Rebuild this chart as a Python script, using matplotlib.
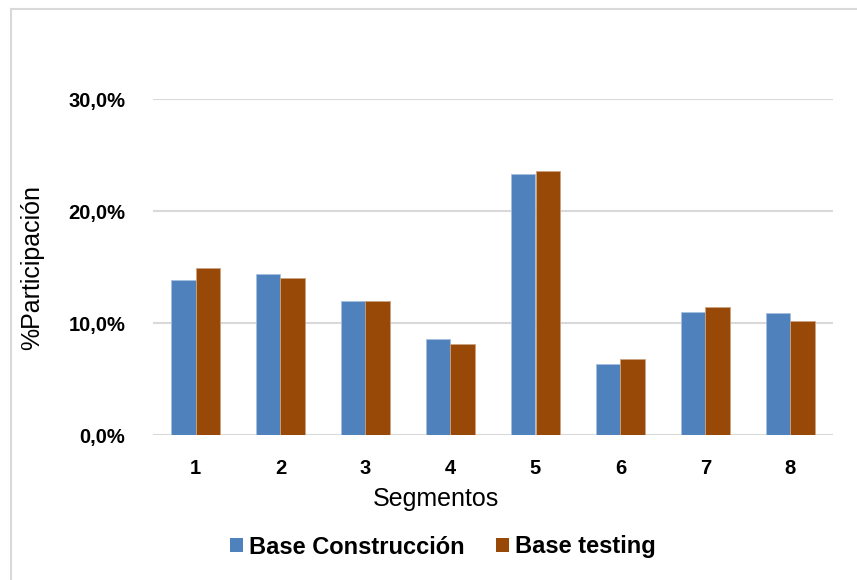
import matplotlib
matplotlib.use("Agg")
import matplotlib.pyplot as plt
from matplotlib.lines import Line2D
from matplotlib.patches import Patch
from matplotlib.ticker import FuncFormatter, FixedLocator

plt.rcParams['font.family'] = ['Liberation Sans', 'DejaVu Sans']

segmentos = ["1", "2", "3", "4", "5", "6", "7", "8"]
base_construccion = [13.8, 14.4, 12.0, 8.6, 23.3, 6.3, 11.0, 10.9]
base_testing = [14.9, 14.0, 12.0, 8.1, 23.6, 6.8, 11.4, 10.2]
y_ticks = [0, 10, 20, 30]

blue = "#4F81BD"
brown = "#984807"
grid_gray = "#D9D9D9"

W, H = 857, 580
fig = plt.figure(figsize=(W / 100, H / 100), dpi=100)
ax = fig.add_axes([153 / W, 1 - 435 / H, 680 / W, 336 / H])

x = list(range(1, len(segmentos) + 1))
bw = 0.294
ax.bar([i - bw / 2 for i in x], base_construccion, width=bw, color=blue,
       edgecolor="#A7BFDE", linewidth=0.6, zorder=3, label="Base Construcción")
ax.bar([i + bw / 2 for i in x], base_testing, width=bw, color=brown,
       edgecolor="#C9A383", linewidth=0.6, zorder=3, label="Base testing")

ax.set_xlim(0.5, len(segmentos) + 0.5)
ax.set_ylim(0, 30)
ax.yaxis.set_major_locator(FixedLocator(y_ticks))
ax.yaxis.set_major_formatter(FuncFormatter(lambda v, p: f"{v:.1f}%".replace(".", ",")))
ax.set_xticks(x)
ax.set_xticklabels(segmentos)

for s in ax.spines.values():
    s.set_visible(False)
ax.grid(axis="y", color=grid_gray, linewidth=1.5, zorder=0)
ax.set_axisbelow(True)
ax.tick_params(axis="both", length=0)
ax.tick_params(axis="y", pad=20, labelsize=14.5)
ax.tick_params(axis="x", pad=17, labelsize=14.5)
for t in ax.get_xticklabels() + ax.get_yticklabels():
    t.set_fontweight("bold")

fig.text(435.5 / W, 1 - 499 / H, "Segmentos", fontsize=18,
         ha="center", va="center")
fig.text(32 / W, 1 - 268 / H, "%Participación", rotation=90, fontsize=18,
         ha="center", va="center")

handles = [Patch(facecolor=blue), Patch(facecolor=brown)]
fig.legend(handles, ["Base Construcción", "Base testing"], loc="center",
           bbox_to_anchor=(443 / W, 1 - 547 / H), ncol=2, frameon=False,
           prop={"weight": "bold", "size": 17}, handlelength=0.52,
           handleheight=0.52, handletextpad=0.27, columnspacing=1.35)

fig.add_artist(Line2D([11 / W, 11 / W], [0, 1 - 9 / H], color=grid_gray, linewidth=1.5))
fig.add_artist(Line2D([11 / W, 1], [1 - 9 / H, 1 - 9 / H], color=grid_gray, linewidth=1.5))

fig.savefig("out.png", dpi=100, facecolor="white")
